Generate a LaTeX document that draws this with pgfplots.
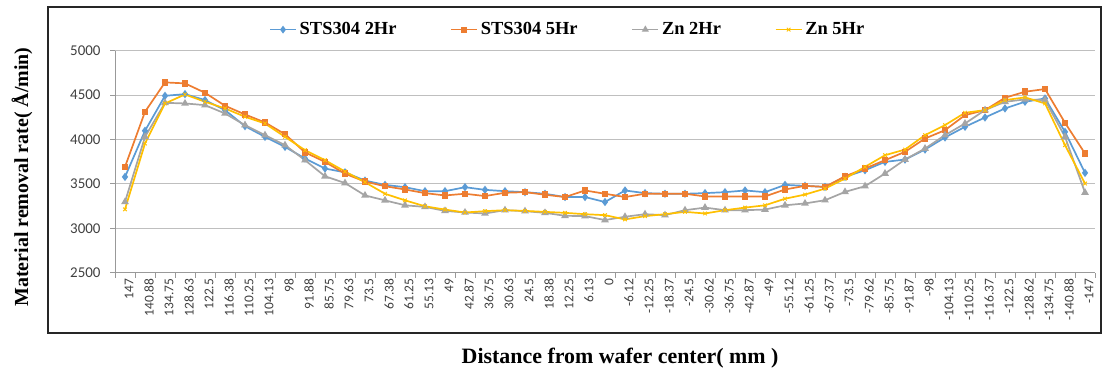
\documentclass[border=0pt]{standalone}
\usepackage{pgfplots}
\usepackage{pgfplotstable}
\pgfplotsset{compat=1.18}
\usepackage{fontspec}
\setmainfont{Liberation Serif}
\newfontfamily\tickfont{Carlito}
\definecolor{cblue}{HTML}{5B9BD5}
\definecolor{corange}{HTML}{ED7D31}
\definecolor{cgray}{HTML}{A5A5A5}
\definecolor{cyellow}{HTML}{FFC000}
\definecolor{ctick}{HTML}{404040}
\definecolor{cgrid}{HTML}{BFBFBF}

\pgfplotstableread{
x sa sb za zb
0 3579 3692 3297 3214
1 4098 4312 4030 3955
2 4492 4643 4413 4406
3 4511 4632 4406 4507
4 4444 4526 4387 4425
5 4331 4380 4293 4350
6 4150 4282 4162 4256
7 4030 4192 4049 4180
8 3917 4060 3936 4030
9 3786 3855 3767 3880
10 3673 3748 3586 3767
11 3630 3615 3510 3640
12 3537 3526 3370 3519
13 3489 3474 3315 3389
14 3463 3437 3259 3315
15 3418 3396 3241 3248
16 3418 3370 3196 3211
17 3463 3389 3178 3178
18 3433 3363 3167 3193
19 3418 3400 3204 3204
20 3407 3407 3193 3196
21 3389 3378 3174 3185
22 3352 3352 3141 3174
23 3352 3426 3137 3159
24 3296 3389 3093 3148
25 3426 3352 3130 3100
26 3396 3389 3159 3137
27 3389 3389 3148 3159
28 3389 3389 3204 3185
29 3396 3359 3233 3167
30 3407 3359 3204 3204
31 3426 3359 3204 3233
32 3407 3359 3211 3259
33 3489 3437 3259 3333
34 3478 3478 3280 3380
35 3466 3466 3316 3447
36 3579 3586 3410 3560
37 3654 3673 3474 3692
38 3748 3767 3617 3823
39 3774 3861 3774 3887
40 3887 4011 3898 4049
41 4023 4105 4049 4162
42 4143 4274 4180 4301
43 4248 4331 4331 4331
44 4350 4470 4425 4444
45 4425 4538 4451 4474
46 4462 4568 4444 4406
47 4086 4188 4030 3936
48 3624 3842 3402 3504
}\data

\begin{document}
\begin{tikzpicture}[x=1bp,y=1bp]
\useasboundingbox (0,0) rectangle (1103,375);
\draw[line width=1.6bp, black!85] (48,42) rectangle (1101,368);
\begin{axis}[
  at={(115bp,102.3bp)}, anchor=south west,
  scale only axis, width=980bp, height=222bp,
  xmin=-0.5, xmax=48.5, ymin=2500, ymax=5000,
  xtick={-0.5,0.5,...,48.5}, x tick label as interval,
  xticklabels={147,140.88,134.75,128.63,122.5,116.38,110.25,104.13,98,91.88,85.75,79.63,73.5,67.38,61.25,55.13,49,42.87,36.75,30.63,24.5,18.38,12.25,6.13,0,-6.12,-12.25,-18.37,-24.5,-30.62,-36.75,-42.87,-49,-55.12,-61.25,-67.37,-73.5,-79.62,-85.75,-91.87,-98,-104.13,-110.25,-116.37,-122.5,-128.62,-134.75,-140.88,-147},
  ytick={2500,3000,...,5000},
  ymajorgrids, grid style={cgrid, line width=1bp},
  axis x line*=bottom, axis y line*=left,
  axis line style={cgrid!80!black, line width=0.8bp, -},
  tick align=outside, major tick length=5bp,
  tick style={cgrid!80!black, line width=0.8bp},
  xticklabel style={rotate=90, anchor=east, font=\tickfont\fontsize{13.5}{14}\selectfont, text=ctick, inner sep=1bp, yshift=-4bp},
  yticklabel style={font=\tickfont\fontsize{15}{16}\selectfont, text=ctick, xshift=-6bp},
  /pgf/number format/assume math mode=true, /pgf/number format/1000 sep={},
  legend columns=4,
  legend style={draw=none, fill=none, at={(0.462,1.095)}, anchor=center,
    font=\bfseries\fontsize{18.5}{20}\selectfont,
    /tikz/every even column/.append style={column sep=52bp},
    /tikz/every odd column/.append style={column sep=1bp}},
  legend image code/.code={\draw[mark repeat=2,mark phase=2,line width=1.4bp] plot coordinates {(0bp,0bp) (13bp,0bp) (26bp,0bp)};},
]
\addplot[cblue, line width=1.7bp, mark=diamond*, mark size=2.8bp] table[x=x,y=sa]{\data};
\addlegendentry{STS304 2Hr}
\addplot[corange, line width=1.7bp, mark=square*, mark size=2.4bp] table[x=x,y=sb]{\data};
\addlegendentry{STS304 5Hr}
\addplot[cgray, line width=1.7bp, mark=triangle*, mark size=2.8bp] table[x=x,y=za]{\data};
\addlegendentry{Zn 2Hr}
\addplot[cyellow, line width=1.7bp, mark=x, mark size=2.5bp, mark options={line width=1bp}] table[x=x,y=zb]{\data};
\addlegendentry{Zn 5Hr}
\end{axis}
\node[rotate=90, font=\bfseries\fontsize{20}{22}\selectfont] at (22,198) {Material removal rate( Å/min)};
\node[font=\bfseries\fontsize{22}{24}\selectfont] at (620,17) {Distance from wafer center( mm )};
\end{tikzpicture}
\end{document}
